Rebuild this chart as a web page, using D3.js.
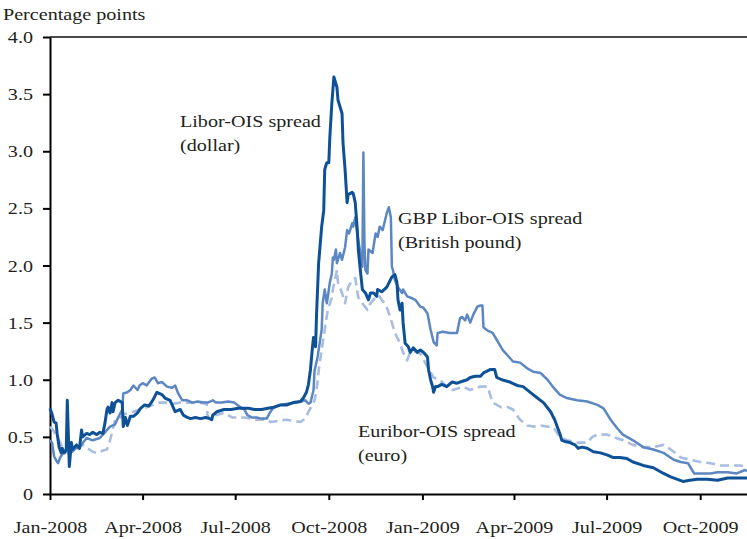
<!DOCTYPE html>
<html lang="en">
<head>
  <meta charset="UTF-8">
  <title>Libor-OIS spreads 2008-2009</title>
  <script src="https://d3js.org/d3.v7.min.js"></script>
  <style>
    body { margin: 0; background: #fff; }
    svg { display: block; }
    text { font-family: "Liberation Serif", "Times New Roman", serif; font-size: 17.5px; fill: #231f20; }
    .axis path, .axis line { stroke: #000; stroke-width: 2; }
    .line { fill: none; stroke-linejoin: round; }
  </style>
</head>
<body>
  <svg width="747" height="539"></svg>
  <script>
    // values, percentage points
    const dollarSpread = [
      ["2008-01-01",0.75],["2008-01-03",0.70],["2008-01-05",0.63],["2008-01-07",0.62],["2008-01-08",0.53],["2008-01-10",0.41],
      ["2008-01-12",0.36],["2008-01-13",0.40],["2008-01-15",0.36],["2008-01-17",0.39],["2008-01-18",0.82],["2008-01-20",0.24],
      ["2008-01-22",0.45],["2008-01-23",0.39],["2008-01-27",0.43],["2008-01-30",0.40],["2008-02-01",0.56],["2008-02-02",0.50],
      ["2008-02-06",0.53],["2008-02-09",0.52],["2008-02-12",0.54],["2008-02-16",0.52],["2008-02-19",0.54],["2008-02-22",0.53],
      ["2008-02-24",0.62],["2008-02-26",0.74],["2008-02-27",0.76],["2008-02-29",0.71],["2008-03-02",0.80],["2008-03-03",0.72],
      ["2008-03-05",0.80],["2008-03-08",0.82],["2008-03-12",0.80],["2008-03-13",0.59],["2008-03-15",0.67],["2008-03-17",0.60],
      ["2008-03-20",0.68],["2008-03-23",0.68],["2008-03-27",0.71],["2008-03-30",0.75],["2008-04-03",0.78],["2008-04-07",0.77],
      ["2008-04-11",0.82],["2008-04-15",0.89],["2008-04-20",0.87],["2008-04-23",0.84],["2008-04-28",0.82],["2008-04-30",0.78],
      ["2008-05-03",0.72],["2008-05-08",0.74],["2008-05-11",0.69],["2008-05-15",0.67],["2008-05-18",0.66],["2008-05-23",0.67],
      ["2008-05-28",0.66],["2008-06-02",0.67],["2008-06-06",0.66],["2008-06-08",0.65],["2008-06-09",0.69],["2008-06-13",0.72],
      ["2008-06-20",0.74],["2008-06-27",0.74],["2008-07-04",0.75],["2008-07-14",0.75],["2008-07-20",0.74],["2008-07-27",0.74],
      ["2008-08-02",0.75],["2008-08-08",0.76],["2008-08-15",0.78],["2008-08-21",0.78],["2008-08-27",0.80],["2008-09-03",0.81],
      ["2008-09-06",0.84],["2008-09-09",0.89],["2008-09-11",0.96],
      ["2008-09-13",1.09],["2008-09-15",1.29],["2008-09-16",1.37],["2008-09-18",1.29],["2008-09-19",1.58],["2008-09-21",2.02],
      ["2008-09-24",2.34],["2008-09-26",2.48],["2008-09-27",2.84],["2008-09-29",2.90],["2008-10-01",2.90],["2008-10-02",3.12],
      ["2008-10-04",3.42],["2008-10-06",3.65],["2008-10-09",3.56],["2008-10-10",3.45],["2008-10-14",3.33],["2008-10-15",3.07],
      ["2008-10-17",2.84],["2008-10-19",2.55],["2008-10-20",2.62],["2008-10-24",2.64],["2008-10-25",2.63],["2008-10-27",2.55],
      ["2008-10-29",2.31],["2008-10-30",2.14],["2008-11-01",1.96],["2008-11-03",1.79],["2008-11-06",1.76],["2008-11-09",1.70],
      ["2008-11-11",1.76],["2008-11-14",1.76],["2008-11-17",1.73],["2008-11-18",1.79],["2008-11-22",1.77],["2008-11-27",1.81],
      ["2008-12-02",1.90],["2008-12-05",1.92],["2008-12-07",1.85],["2008-12-08",1.70],["2008-12-10",1.61],["2008-12-12",1.67],
      ["2008-12-13",1.50],["2008-12-15",1.32],["2008-12-18",1.29],["2008-12-20",1.24],["2008-12-23",1.28],["2008-12-27",1.24],
      ["2008-12-30",1.26],["2009-01-02",1.24],["2009-01-06",1.20],["2009-01-07",1.09],["2009-01-09",1.00],["2009-01-11",0.94],
      ["2009-01-12",0.89],["2009-01-14",0.94],["2009-01-16",0.94],["2009-01-20",0.96],["2009-01-25",0.94],["2009-01-30",0.98],
      ["2009-02-04",0.97],["2009-02-07",0.98],["2009-02-14",1.00],["2009-02-17",1.02],["2009-02-22",1.03],["2009-02-27",1.03],
      ["2009-03-02",1.06],["2009-03-09",1.09],["2009-03-13",1.09],["2009-03-15",1.02],["2009-03-20",1.00],["2009-03-28",0.98],
      ["2009-04-04",0.95],["2009-04-10",0.94],["2009-04-17",0.89],["2009-04-24",0.84],["2009-04-30",0.80],["2009-05-07",0.72],
      ["2009-05-11",0.65],["2009-05-16",0.53],["2009-05-18",0.47],["2009-05-21",0.46],["2009-05-26",0.45],["2009-05-31",0.43],
      ["2009-06-03",0.40],["2009-06-07",0.41],["2009-06-12",0.40],["2009-06-18",0.37],["2009-06-25",0.36],["2009-07-02",0.34],
      ["2009-07-07",0.32],["2009-07-14",0.32],["2009-07-21",0.31],["2009-07-27",0.28],["2009-08-06",0.25],["2009-08-16",0.23],
      ["2009-08-26",0.18],["2009-09-02",0.15],["2009-09-08",0.13],["2009-09-14",0.11],["2009-09-21",0.12],["2009-09-28",0.13],
      ["2009-10-08",0.13],["2009-10-18",0.12],["2009-10-28",0.14],["2009-11-06",0.14],["2009-11-16",0.14]
    ];

    const poundSpread = [
      ["2008-01-01",0.47],["2008-01-03",0.45],["2008-01-05",0.33],["2008-01-08",0.28],["2008-01-09",0.27],["2008-01-11",0.32],
      ["2008-01-14",0.36],["2008-01-18",0.38],["2008-01-23",0.37],["2008-01-26",0.40],["2008-01-30",0.41],["2008-02-06",0.49],
      ["2008-02-12",0.47],["2008-02-19",0.49],["2008-02-24",0.54],["2008-02-29",0.59],["2008-03-05",0.61],["2008-03-08",0.67],
      ["2008-03-12",0.74],["2008-03-13",0.88],["2008-03-17",0.89],["2008-03-20",0.91],["2008-03-23",0.95],["2008-03-27",0.91],
      ["2008-03-29",0.95],["2008-04-01",0.97],["2008-04-05",0.95],["2008-04-10",1.01],["2008-04-13",1.02],["2008-04-16",0.97],
      ["2008-04-20",0.98],["2008-04-25",0.94],["2008-04-30",0.93],["2008-05-03",0.95],["2008-05-06",0.88],["2008-05-10",0.82],
      ["2008-05-15",0.82],["2008-05-20",0.80],["2008-05-25",0.81],["2008-05-31",0.80],["2008-06-04",0.80],["2008-06-09",0.82],
      ["2008-06-12",0.80],["2008-06-18",0.80],["2008-06-24",0.81],["2008-06-30",0.80],["2008-07-06",0.76],["2008-07-10",0.74],
      ["2008-07-13",0.69],["2008-07-17",0.67],["2008-07-22",0.67],["2008-07-27",0.66],["2008-08-01",0.66],["2008-08-04",0.71],
      ["2008-08-07",0.75],["2008-08-14",0.78],["2008-08-22",0.79],["2008-08-30",0.80],["2008-09-04",0.81],["2008-09-08",0.82],
      ["2008-09-11",0.79],["2008-09-13",0.80],["2008-09-16",0.91],["2008-09-17",1.08],
      ["2008-09-20",1.20],["2008-09-24",1.44],["2008-09-25",1.67],["2008-09-27",1.79],["2008-09-29",1.67],["2008-09-30",1.72],
      ["2008-10-02",1.85],["2008-10-04",1.93],["2008-10-05",2.07],["2008-10-06",2.05],["2008-10-08",2.14],["2008-10-09",2.02],
      ["2008-10-12",2.11],["2008-10-14",2.05],["2008-10-17",2.16],["2008-10-19",2.31],["2008-10-21",2.28],["2008-10-24",2.37],
      ["2008-10-25",2.34],["2008-10-27",2.42],["2008-10-29",2.28],["2008-10-30",2.22],["2008-11-01",2.11],["2008-11-03",1.99],
      ["2008-11-04",2.99],["2008-11-05",2.20],["2008-11-06",1.96],["2008-11-08",1.93],["2008-11-09",2.14],["2008-11-13",2.11],
      ["2008-11-16",2.28],["2008-11-18",2.25],["2008-11-20",2.34],["2008-11-23",2.31],["2008-11-27",2.46],["2008-11-29",2.51],
      ["2008-12-01",2.42],["2008-12-02",1.99],["2008-12-03",1.96],["2008-12-05",1.87],["2008-12-08",1.81],["2008-12-12",1.76],
      ["2008-12-13",1.79],["2008-12-17",1.73],["2008-12-20",1.72],["2008-12-25",1.70],["2008-12-30",1.64],["2009-01-02",1.63],
      ["2009-01-06",1.58],["2009-01-09",1.44],["2009-01-12",1.33],["2009-01-15",1.30],["2009-01-16",1.41],["2009-01-21",1.42],
      ["2009-01-28",1.41],["2009-02-04",1.41],["2009-02-07",1.54],["2009-02-09",1.55],["2009-02-12",1.52],["2009-02-14",1.57],
      ["2009-02-17",1.50],["2009-02-20",1.57],["2009-02-24",1.64],["2009-02-27",1.65],["2009-03-01",1.65],["2009-03-02",1.46],
      ["2009-03-06",1.43],["2009-03-11",1.41],["2009-03-15",1.35],["2009-03-21",1.26],["2009-03-28",1.19],["2009-03-31",1.16],
      ["2009-04-07",1.15],["2009-04-14",1.10],["2009-04-20",1.07],["2009-04-27",1.06],["2009-05-04",1.00],["2009-05-09",0.94],
      ["2009-05-16",0.87],["2009-05-23",0.84],["2009-06-02",0.82],["2009-06-12",0.81],["2009-06-22",0.78],["2009-06-28",0.75],
      ["2009-07-05",0.65],["2009-07-11",0.58],["2009-07-17",0.52],["2009-07-27",0.47],["2009-08-06",0.41],["2009-08-16",0.39],
      ["2009-08-26",0.36],["2009-09-05",0.30],["2009-09-12",0.28],["2009-09-19",0.27],["2009-09-25",0.18],["2009-10-01",0.18],
      ["2009-10-11",0.18],["2009-10-18",0.19],["2009-10-28",0.19],["2009-11-06",0.18],["2009-11-14",0.21],["2009-11-16",0.20]
    ];

    const euroSpread = [
      ["2008-01-01",0.59],["2008-01-04",0.56],["2008-01-08",0.50],["2008-01-11",0.45],["2008-01-14",0.39],["2008-01-19",0.36],
      ["2008-01-24",0.39],["2008-01-29",0.40],["2008-02-02",0.43],["2008-02-07",0.40],["2008-02-12",0.37],["2008-02-16",0.36],
      ["2008-02-22",0.38],["2008-02-26",0.39],["2008-02-29",0.47],["2008-03-02",0.54],["2008-03-05",0.65],["2008-03-10",0.67],
      ["2008-03-13",0.69],["2008-03-17",0.71],["2008-03-23",0.72],["2008-03-29",0.74],["2008-04-05",0.76],["2008-04-11",0.78],
      ["2008-04-18",0.80],["2008-04-25",0.80],["2008-05-01",0.79],["2008-05-08",0.80],["2008-05-15",0.80],["2008-05-25",0.80],
      ["2008-06-03",0.79],["2008-06-04",0.67],["2008-06-12",0.69],["2008-06-20",0.71],["2008-06-28",0.67],["2008-07-10",0.67],
      ["2008-07-22",0.65],["2008-08-01",0.65],["2008-08-05",0.63],["2008-08-20",0.65],["2008-09-03",0.63],["2008-09-08",0.66],
      ["2008-09-11",0.72],["2008-09-15",0.78],["2008-09-17",0.82],["2008-09-19",0.91],
      ["2008-09-21",1.08],["2008-09-24",1.26],["2008-09-27",1.44],["2008-09-30",1.61],["2008-10-04",1.72],["2008-10-05",1.79],
      ["2008-10-09",1.96],["2008-10-10",1.85],["2008-10-14",1.76],["2008-10-17",1.67],["2008-10-20",1.81],["2008-10-24",1.87],
      ["2008-10-27",1.89],["2008-10-30",1.72],["2008-11-03",1.67],["2008-11-08",1.61],["2008-11-11",1.67],["2008-11-16",1.72],
      ["2008-11-19",1.74],["2008-11-22",1.70],["2008-11-25",1.67],["2008-11-28",1.61],["2008-12-02",1.50],["2008-12-05",1.41],
      ["2008-12-10",1.32],["2008-12-13",1.24],["2008-12-17",1.17],["2008-12-20",1.24],["2008-12-23",1.25],["2008-12-30",1.23],
      ["2009-01-06",1.11],["2009-01-12",1.02],["2009-01-18",1.00],["2009-01-25",0.94],["2009-01-31",0.91],["2009-02-10",0.94],
      ["2009-02-17",0.91],["2009-02-27",0.94],["2009-03-06",0.94],["2009-03-11",0.80],["2009-03-19",0.76],["2009-03-26",0.76],
      ["2009-03-31",0.74],["2009-04-07",0.65],["2009-04-14",0.60],["2009-04-20",0.59],["2009-04-27",0.60],["2009-05-04",0.59],
      ["2009-05-10",0.58],["2009-05-16",0.50],["2009-05-23",0.47],["2009-06-02",0.45],["2009-06-12",0.45],["2009-06-17",0.50],
      ["2009-06-22",0.52],["2009-07-02",0.52],["2009-07-07",0.50],["2009-07-17",0.47],["2009-07-27",0.43],["2009-08-06",0.41],
      ["2009-08-16",0.41],["2009-08-26",0.43],["2009-09-02",0.39],["2009-09-12",0.32],["2009-09-21",0.30],["2009-10-01",0.28],
      ["2009-10-11",0.27],["2009-10-21",0.25],["2009-10-30",0.25],["2009-11-09",0.25],["2009-11-16",0.24]
    ];

    const yTicks = [0, 0.5, 1.0, 1.5, 2.0, 2.5, 3.0, 3.5, 4.0];
    const xTicks = ["2008-01-01","2008-04-01","2008-07-01","2008-10-01","2009-01-01","2009-04-01","2009-07-01","2009-10-01"];
    const xDomain = ["2008-01-01", "2009-11-16"];

    const parse = d3.timeParse("%Y-%m-%d");
    const svg = d3.select("svg"),
          margin = {top: 37, right: 0, bottom: 45, left: 50},
          width = +svg.attr("width") - margin.left - margin.right,
          height = +svg.attr("height") - margin.top - margin.bottom;
    const stretch = "scale(1.15,1)"; // type in the original is set a bit wide

    const g = svg.append("g").attr("transform", `translate(${margin.left},${margin.top})`);

    const x = d3.scaleTime()
      .domain(xDomain.map(parse))
      .range([0, width]);
    const y = d3.scaleLinear()
      .domain([0, 4])
      .range([height, 0]);

    // top frame
    g.append("line")
      .attr("x1", 0).attr("x2", width)
      .attr("y1", y(4)).attr("y2", y(4))
      .attr("stroke", "#4a4a4a").attr("stroke-width", 2);

    const xAxis = g.append("g")
      .attr("class", "axis")
      .attr("transform", `translate(0,${height})`)
      .call(d3.axisBottom(x)
        .tickValues(xTicks.map(parse))
        .tickFormat(d3.timeFormat("%b-%Y"))
        .tickSize(6).tickSizeOuter(0).tickPadding(21));
    xAxis.selectAll("text").attr("transform", stretch);

    const yAxis = g.append("g")
      .attr("class", "axis")
      .call(d3.axisLeft(y)
        .tickValues(yTicks)
        .tickFormat(d => d === 0 ? "0" : d.toFixed(1))
        .tickSize(7).tickSizeOuter(0));
    yAxis.selectAll("text").attr("x", 0).attr("transform", "translate(-17,0) " + stretch);
    svg.selectAll(".axis text").style("fill", "#231f20");

    svg.append("text")
      .attr("transform", "translate(3,20) " + stretch)
      .text("Percentage points");

    const line = d3.line()
      .x(d => x(parse(d[0])))
      .y(d => y(d[1]));

    g.append("path").datum(euroSpread)
      .attr("class", "line")
      .attr("stroke", "#a8bde0").attr("stroke-width", 2.6)
      .attr("stroke-dasharray", "9,5")
      .attr("d", line);
    g.append("path").datum(poundSpread)
      .attr("class", "line")
      .attr("stroke", "#5d87c2").attr("stroke-width", 2.5)
      .attr("d", line);
    g.append("path").datum(dollarSpread)
      .attr("class", "line")
      .attr("stroke", "#0e5197").attr("stroke-width", 3)
      .attr("d", line);

    const labels = [
      {x: 180, y: 127, text: "Libor-OIS spread"},
      {x: 180, y: 151, text: "(dollar)"},
      {x: 398, y: 224, text: "GBP Libor-OIS spread"},
      {x: 398, y: 248, text: "(British pound)"},
      {x: 358, y: 437, text: "Euribor-OIS spread"},
      {x: 358, y: 461, text: "(euro)"}
    ];
    svg.selectAll(".label")
      .data(labels)
      .enter()
      .append("text")
      .attr("class", "label")
      .attr("transform", d => `translate(${d.x},${d.y}) ${stretch}`)
      .text(d => d.text);
  </script>
</body>
</html>
